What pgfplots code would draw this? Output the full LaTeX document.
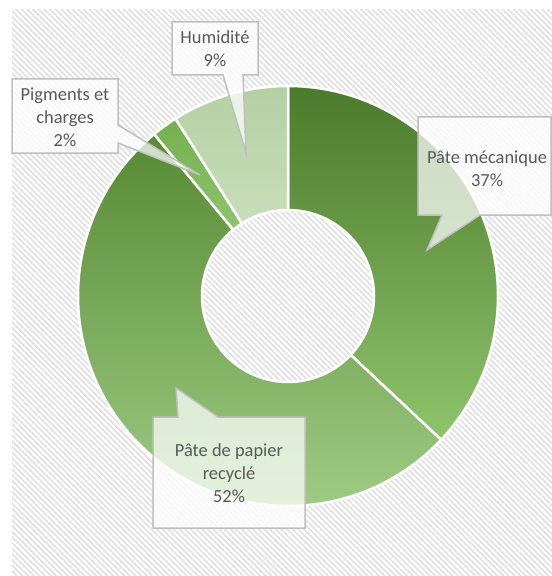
\documentclass[border=0pt]{standalone}
\usepackage{pgfplots}
\pgfplotsset{compat=1.18}
\usepackage{pgfplotstable}
\usepackage{fontspec}
\setmainfont{Carlito}
\usetikzlibrary{calc,patterns.meta}
\definecolor{txt}{HTML}{595959}
\definecolor{cbord}{HTML}{BFBFBF}
\definecolor{mecT}{HTML}{4C7A2C}
\definecolor{mecB}{HTML}{8EC46C}
\definecolor{recT}{HTML}{578A34}
\definecolor{recB}{HTML}{A2CF88}
\definecolor{pigT}{HTML}{74AF4E}
\definecolor{pigB}{HTML}{8FC46D}
\definecolor{humT}{HTML}{B4D0A3}
\definecolor{humB}{HTML}{C8DEBB}

\pgfplotstableread{
name value
mecanique 37
recycle 52
pigments 2
humidite 9
}\datatable
\pgfplotstablegetelem{0}{value}\of\datatable\let\vA\pgfplotsretval
\pgfplotstablegetelem{1}{value}\of\datatable\let\vB\pgfplotsretval
\pgfplotstablegetelem{2}{value}\of\datatable\let\vC\pgfplotsretval
\pgfplotstablegetelem{3}{value}\of\datatable\let\vD\pgfplotsretval
\pgfmathsetmacro\aA{90-3.6*\vA}
\pgfmathsetmacro\aB{\aA-3.6*\vB}
\pgfmathsetmacro\aC{\aB-3.6*\vC}
\pgfmathsetmacro\aD{\aC-3.6*\vD}

\newcommand\sector[4]{%
  \path[top color=#3, bottom color=#4, draw=white, line width=2.5bp]
    ($(axis cs:288,296)+(#1:210bp)$) arc[start angle=#1, end angle=#2, radius=210bp]
    -- ($(axis cs:288,296)+(#2:86bp)$) arc[start angle=#2, end angle=#1, radius=86bp] -- cycle;}

\begin{document}%
\begin{tikzpicture}
\begin{axis}[
  scale only axis, width=552bp, height=576bp,
  xmin=0, xmax=552, ymin=0, ymax=576, y dir=reverse,
  hide axis, clip=false]
\addplot[draw=none] coordinates {(0,0) (552,576)};
% background hatch
\fill[white] (axis cs:12,10) rectangle (axis cs:552,576);
\fill[pattern={Lines[angle=-45,distance=4bp,line width=1.6bp]}, pattern color=black!12]
  (axis cs:12,10) rectangle (axis cs:552,576);
% donut
\sector{90}{\aA}{mecT}{mecB}
\sector{\aA}{\aB}{recT}{recB}
\sector{\aB}{\aC}{pigT}{pigB}
\sector{\aC}{\aD}{humT}{humB}
% callouts
\tikzset{callout/.style={fill=white, fill opacity=0.72, draw=cbord, draw opacity=1, line width=1.5bp, line join=miter}}
\path[callout] (axis cs:172,22) -- (axis cs:258,22) -- (axis cs:258,75) -- (axis cs:243,75)
  -- (axis cs:246,153) -- (axis cs:223,75) -- (axis cs:172,75) -- cycle;
\path[callout] (axis cs:12,79) -- (axis cs:118,79) -- (axis cs:118,125) -- (axis cs:200,175)
  -- (axis cs:118,143) -- (axis cs:118,153) -- (axis cs:12,153) -- cycle;
\path[callout] (axis cs:418,117) -- (axis cs:551,117) -- (axis cs:551,215) -- (axis cs:480,215)
  -- (axis cs:427,250) -- (axis cs:442,215) -- (axis cs:418,215) -- cycle;
\path[callout] (axis cs:153,417) -- (axis cs:178,417) -- (axis cs:176,388) -- (axis cs:218,417)
  -- (axis cs:305,417) -- (axis cs:305,528) -- (axis cs:153,528) -- cycle;
% labels
\tikzset{lab/.style={text=txt, align=center, font=\fontsize{18.5}{23}\selectfont, inner sep=0pt}}
\node[lab] at (axis cs:215,49) {Humidité\\9\%};
\node[lab] at (axis cs:65,117) {Pigments et\\charges\\2\%};
\node[lab] at (axis cs:487,169) {Pâte mécanique\\37\%};
\node[lab] at (axis cs:229,473) {Pâte de papier\\recyclé\\52\%};
\end{axis}
\end{tikzpicture}%
\end{document}
